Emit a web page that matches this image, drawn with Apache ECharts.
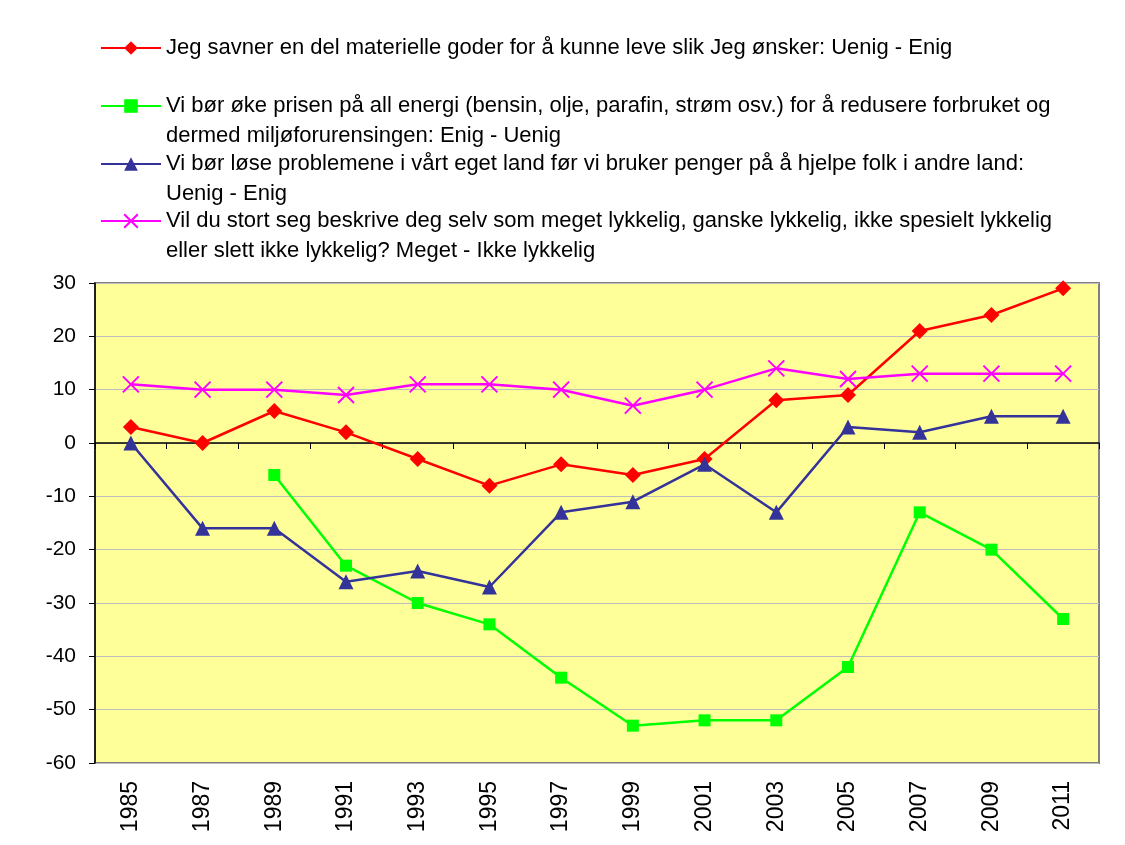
<!DOCTYPE html>
<html><head><meta charset="utf-8">
<script src="https://cdn.jsdelivr.net/npm/echarts@6/dist/echarts.min.js"></script>
<style>html,body{margin:0;padding:0;background:#fff}#c{width:1125px;height:845px}</style>
</head><body><div id="c"></div>
<script>
const years = ['1985','1987','1989','1991','1993','1995','1997','1999','2001','2003','2005','2007','2009','2011'];
const materielle = [3, 0, 6, 2, -3, -8, -4, -6, -3, 8, 9, 21, 24, 29];
const energi = [null, null, -6, -23, -30, -34, -44, -53, -52, -52, -42, -13, -20, -33];
const egetLand = [0, -16, -16, -26, -24, -27, -13, -11, -4, -13, 3, 2, 5, 5];
const lykkelig = [11, 10, 10, 9, 11, 11, 10, 7, 10, 14, 12, 13, 13, 13];
const names = [
  'Jeg savner en del materielle goder for å kunne leve slik Jeg ønsker: Uenig - Enig',
  'Vi bør øke prisen på all energi (bensin, olje, parafin, strøm osv.) for å redusere forbruket og\ndermed miljøforurensingen: Enig - Uenig',
  'Vi bør løse problemene i vårt eget land før vi bruker penger på å hjelpe folk i andre land:\nUenig - Enig',
  'Vil du stort seg beskrive deg selv som meget lykkelig, ganske lykkelig, ikke spesielt lykkelig\neller slett ikke lykkelig? Meget - Ikke lykkelig'
];
const yMin = -60, yMax = 30, yStep = 10;

const font = 'Liberation Sans';
const chart = echarts.init(document.getElementById('c'));
function leg(name, top, twoLine) {
  return {
    data: [name], left: 95, top: top, itemWidth: 60, itemHeight: 17,
    selectedMode: false,
    formatter: n => (twoLine ? '\n' : '') + n,
    textStyle: {fontFamily: font, fontSize: 22, color: '#000', lineHeight: 30}
  };
}
const xCross = 'path://M0,0L10,10M10,0L0,10';
chart.setOption({
  animation: false,
  backgroundColor: '#fff',
  legend: [leg(names[0], 28, false), leg(names[1], 56, true), leg(names[2], 114, true), leg(names[3], 171, true)],
  grid: {left: 95, right: 26, top: 283, bottom: 82, show: true, backgroundColor: '#FFFF99',
    borderColor: '#808080', borderWidth: 2},
  xAxis: [
    {type: 'category', data: years, position: 'bottom', boundaryGap: true,
      axisLine: {show: false, onZero: false}, axisTick: {show: false},
      axisLabel: {rotate: 90, fontFamily: font, fontSize: 23, color: '#000', margin: 18}},
    {type: 'category', data: years, position: 'bottom', boundaryGap: true,
      axisLine: {show: true, onZero: true, lineStyle: {color: '#000', width: 1.5}},
      axisTick: {show: true, length: 6, lineStyle: {color: '#000'}}, axisLabel: {show: false}}
  ],
  yAxis: {type: 'value', min: yMin, max: yMax, interval: yStep,
    axisLine: {show: true, onZero: false, lineStyle: {color: '#000', width: 1.5}},
    axisTick: {show: true, length: 6, lineStyle: {color: '#000'}},
    axisLabel: {fontFamily: font, fontSize: 21, color: '#000', margin: 19},
    splitLine: {show: true, lineStyle: {color: '#BDBDBD', width: 1}}},
  series: [
    {name: names[0], type: 'line', data: materielle, symbol: 'diamond', symbolSize: 16,
      lineStyle: {color: '#FF0000', width: 2.5}, itemStyle: {color: '#FF0000'}},
    {name: names[1], type: 'line', data: energi, symbol: 'rect', symbolSize: 12,
      lineStyle: {color: '#00FF00', width: 2.5}, itemStyle: {color: '#00FF00'}},
    {name: names[2], type: 'line', data: egetLand, symbol: 'triangle', symbolSize: 15,
      lineStyle: {color: '#333399', width: 2.5}, itemStyle: {color: '#333399'}},
    {name: names[3], type: 'line', data: lykkelig, symbol: xCross, symbolSize: 16,
      lineStyle: {color: '#FF00FF', width: 2.5}, itemStyle: {color: '#FF00FF', borderColor: '#FF00FF', borderWidth: 2}}
  ]
});
</script></body></html>
